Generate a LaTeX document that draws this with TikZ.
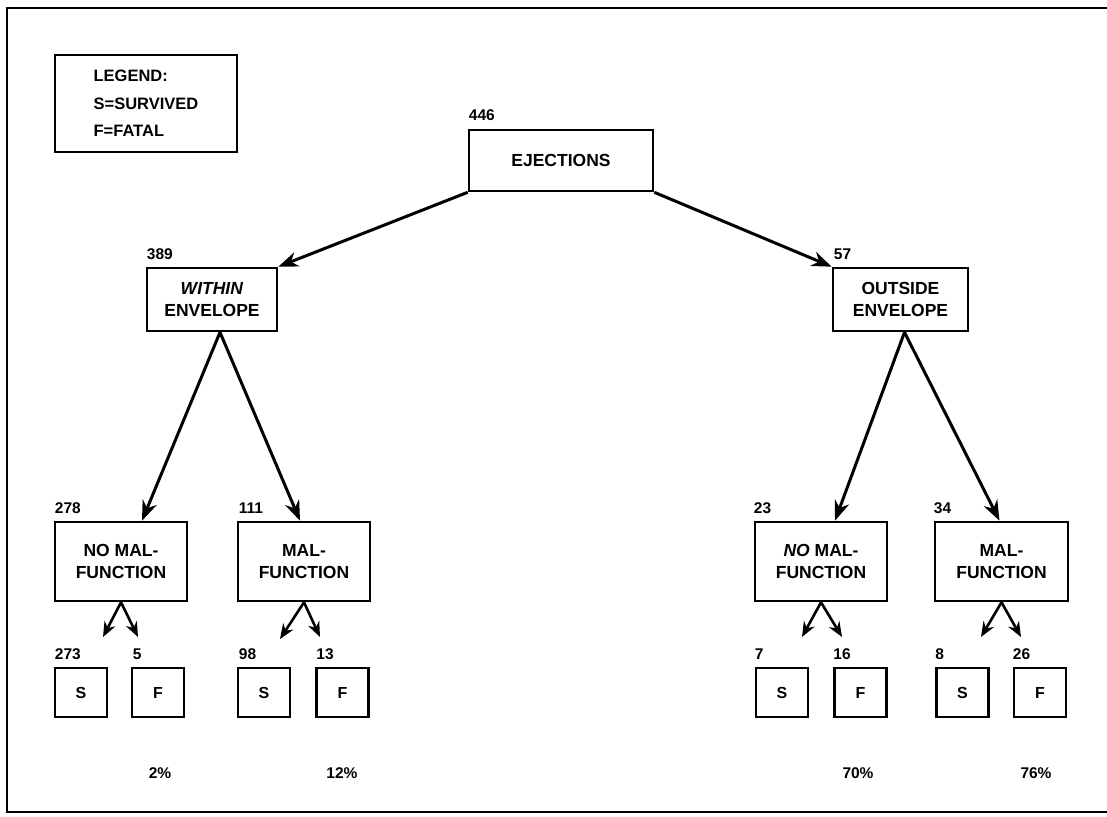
\documentclass[tikz,border=0pt]{standalone}
\usepackage{fontspec}
\setmainfont{Liberation Sans}
\usetikzlibrary{arrows.meta}
\tikzset{
  box/.style={draw, line width=2.6pt, align=center, inner sep=0pt, font=\fontsize{17.5}{22}\selectfont\bfseries},
  leaf/.style={draw, line width=2.6pt, minimum width=52pt, minimum height=49pt, font=\fontsize{16}{19}\selectfont\bfseries},
  num/.style={anchor=south west, inner sep=0pt, font=\fontsize{15.5}{18}\selectfont\bfseries},
  pct/.style={inner sep=0pt, font=\fontsize{15.5}{18}\selectfont\bfseries},
  bigarr/.style={-{Stealth[length=20pt,width=15pt]}, line width=3pt},
  smallarr/.style={-{Stealth[length=15pt,width=12pt]}, line width=2.6pt},
}
\begin{document}
\begin{tikzpicture}[x=1pt, y=-1pt]
\useasboundingbox (0,0) rectangle (1107,816);
\draw[line width=2.6pt] (1112,8) -- (7,8) -- (7,812) -- (1112,812);

% legend
\node[box, minimum width=182pt, minimum height=97pt, align=left, font=\fontsize{16.5}{27.5}\selectfont\bfseries] (legend) at (146,103.5) {LEGEND:\\S=SURVIVED\\F=FATAL};

% top
\node[box, minimum width=184pt, minimum height=61pt] (ej) at (561,160.5) {EJECTIONS};
\node[num] (n446) at ([shift={(1,-8)}]ej.north west) {446};

% envelope
\node[box, minimum width=130pt, minimum height=63pt] (within) at (212,299.5) {\textit{WITHIN}\\ENVELOPE};
\node[box, minimum width=135pt, minimum height=63pt] (outside) at (900.5,299.5) {OUTSIDE\\ENVELOPE};
\node[num] (n389) at ([shift={(1,-7)}]within.north west) {389};
\node[num] (n57) at ([shift={(2,-7)}]outside.north west) {57};

% malfunction
\node[box, minimum width=132pt, minimum height=79pt] (nm1) at (121,561.5) {NO MAL-\\FUNCTION};
\node[box, minimum width=132pt, minimum height=79pt] (m1) at (304,561.5) {MAL-\\FUNCTION};
\node[box, minimum width=132pt, minimum height=79pt] (nm2) at (821,561.5) {\textit{NO} MAL-\\FUNCTION};
\node[box, minimum width=133pt, minimum height=79pt] (m2) at (1001.5,561.5) {MAL-\\FUNCTION};
\node[num] (n278) at ([shift={(1,-7)}]nm1.north west) {278};
\node[num] (n111) at ([shift={(2,-7)}]m1.north west) {111};
\node[num] (n23) at ([shift={(0,-7)}]nm2.north west) {23};
\node[num] (n34) at ([shift={(0,-7)}]m2.north west) {34};

% outcomes
\node[leaf] (s1) at (81,692.5) {S};
\node[leaf] (f1) at (158,692.5) {F};
\node[leaf] (s2) at (264,692.5) {S};
\node[leaf] (f2) at (342.5,692.5) {F};
\node[leaf] (s3) at (782,692.5) {S};
\node[leaf] (f3) at (860.5,692.5) {F};
\node[leaf] (s4) at (962.5,692.5) {S};
\node[leaf] (f4) at (1040,692.5) {F};
\node[num] (n273) at ([shift={(1,-7)}]s1.north west) {273};
\node[num] (n5) at ([shift={(2,-7)}]f1.north west) {5};
\node[num] (n98) at ([shift={(2,-7)}]s2.north west) {98};
\node[num] (n13) at ([shift={(1,-7)}]f2.north west) {13};
\node[num] (n7) at ([shift={(0,-7)}]s3.north west) {7};
\node[num] (n16) at ([shift={(0,-7)}]f3.north west) {16};
\node[num] (n8) at ([shift={(0,-7)}]s4.north west) {8};
\node[num] (n26) at ([shift={(0,-7)}]f4.north west) {26};

% percentages
\node[pct] (p1) at (160,773) {2\%};
\node[pct] (p2) at (342,773) {12\%};
\node[pct] (p3) at (858,773) {70\%};
\node[pct] (p4) at (1036,773) {76\%};

% free ends of the short arrows
\coordinate (e1) at (103,637);
\coordinate (e2) at (138,637);
\coordinate (e3) at (280,639);
\coordinate (e4) at (320,637);
\coordinate (e5) at (802,637);
\coordinate (e6) at (842,637);
\coordinate (e7) at (981,637);
\coordinate (e8) at (1021,637);

\draw[bigarr] (ej.south west) -- (within.north east);
\draw[bigarr] (ej.south east) -- (outside.north west);
\draw[bigarr] ([xshift=8pt]within.south) -- ([xshift=21pt]nm1.north);
\draw[bigarr] ([xshift=8pt]within.south) -- ([xshift=-4pt]m1.north);
\draw[bigarr] ([xshift=4pt]outside.south) -- ([xshift=14pt]nm2.north);
\draw[bigarr] ([xshift=4pt]outside.south) -- ([xshift=-2pt]m2.north);
\draw[smallarr] (nm1.south) -- (e1);
\draw[smallarr] (nm1.south) -- (e2);
\draw[smallarr] (m1.south) -- (e3);
\draw[smallarr] (m1.south) -- (e4);
\draw[smallarr] (nm2.south) -- (e5);
\draw[smallarr] (nm2.south) -- (e6);
\draw[smallarr] (m2.south) -- (e7);
\draw[smallarr] (m2.south) -- (e8);
\end{tikzpicture}
\end{document}
